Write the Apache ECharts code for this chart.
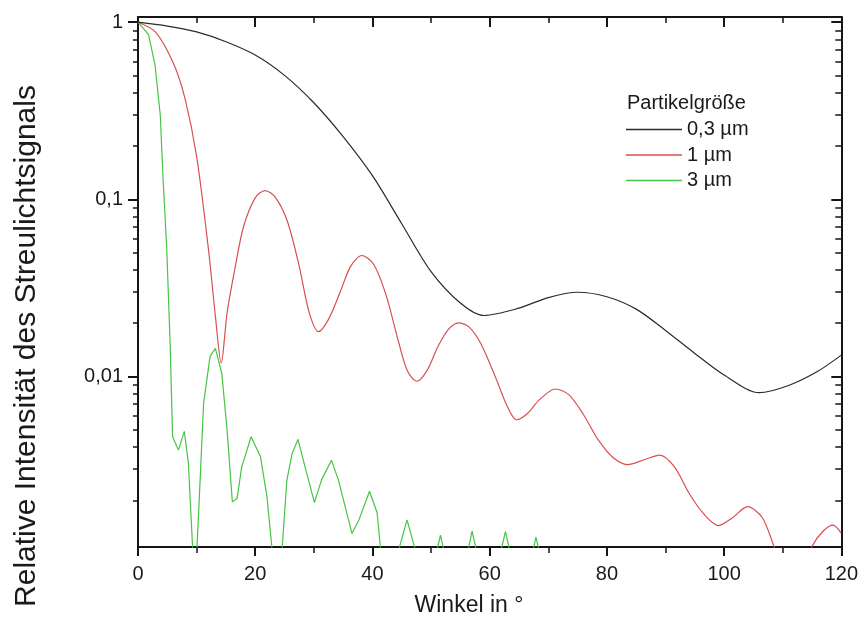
<!DOCTYPE html>
<html>
<head>
<meta charset="utf-8">
<script src="https://cdn.jsdelivr.net/npm/echarts@6/dist/echarts.min.js"></script>
<style>
  html, body { margin: 0; padding: 0; background: #fff; }
  #chart { width: 861px; height: 631px; }
</style>
</head>
<body>
<div id="chart"></div>
<script>
// Werte (Winkel in Grad, relative Intensitaet)
const angle03 = [0, 5, 10, 15, 20, 25, 30, 35, 40, 45, 50, 55, 59, 65, 70, 75, 80, 85, 90, 95, 100, 106, 111, 116, 120];
const int03 = [1, 0.951, 0.881, 0.776, 0.653, 0.501, 0.351, 0.226, 0.136, 0.0728, 0.0391, 0.0260, 0.0221, 0.0243, 0.0279, 0.0299, 0.0282, 0.0240, 0.0182, 0.0135, 0.0102, 0.0081, 0.0089, 0.0107, 0.0132];

const angle1 = [0, 3, 6, 8, 10, 12, 13.2, 14.2, 15.2, 16.5, 18, 20, 21.7, 23.5, 25.5, 27.5, 29.2, 30.8, 32.5, 34.5, 36.3, 38.2, 40.2, 42.3, 44.5, 46, 47.6, 49.3, 51.2, 53, 54.7, 56.5, 58.5, 61, 63, 64.6, 66.5, 68.5, 71.2, 73.5, 76, 78.5, 81, 83.5, 86.5, 89, 91.5, 94, 96.5, 99, 101.5, 104, 106.5, 108.5, 111.5, 115, 117, 118.6, 120];
const int1 = [1, 0.88, 0.59, 0.373, 0.175, 0.053, 0.022, 0.0119, 0.0229, 0.04, 0.07, 0.102, 0.112, 0.102, 0.075, 0.042, 0.023, 0.0179, 0.021, 0.030, 0.042, 0.0482, 0.043, 0.029, 0.0155, 0.0107, 0.0094, 0.0108, 0.0148, 0.0185, 0.0201, 0.0190, 0.0153, 0.0099, 0.0068, 0.0057, 0.0062, 0.0074, 0.0085, 0.0079, 0.0061, 0.0044, 0.0035, 0.00318, 0.0034, 0.0036, 0.0031, 0.0022, 0.00168, 0.00144, 0.0016, 0.00184, 0.0016, 0.0011, 0.0006, 0.0011, 0.00135, 0.00145, 0.0013];

const angle3 = [0, 1.8, 2.9, 3.8, 4.3, 4.9, 5.5, 5.9, 6.9, 7.9, 8.6, 9.7, 10.0, 10.6, 11.2, 12.3, 13.2, 14.3, 15.2, 16.1, 16.9, 17.7, 19.3, 20.9, 22, 23.4, 24.2, 25.4, 26.3, 27.3, 28.5, 30.1, 31.3, 33, 34.2, 36.5, 37.7, 39.5, 40.8, 41.9, 43.5, 45.9, 48.3, 50.2, 51.6, 53, 55.6, 57, 58.5, 61.1, 62.7, 64.2, 66.6, 67.9, 69.2, 72];
const int3 = [1, 0.85, 0.575, 0.30, 0.126, 0.053, 0.0147, 0.00457, 0.00384, 0.0049, 0.00323, 0.0006, 0.0006, 0.0026, 0.0071, 0.0130, 0.0144, 0.0104, 0.00498, 0.00196, 0.00205, 0.00309, 0.00457, 0.00352, 0.0021, 0.0007, 0.0007, 0.0026, 0.00368, 0.00442, 0.00309, 0.00194, 0.0026, 0.00337, 0.0026, 0.0013, 0.00155, 0.00225, 0.0017, 0.0007, 0.0008, 0.00155, 0.0008, 0.0008, 0.00127, 0.0008, 0.0008, 0.00134, 0.0008, 0.0008, 0.00133, 0.0008, 0.0008, 0.00124, 0.0008, 0.0005];

const seriesNames = ['0,3 µm', '1 µm', '3 µm'];
const seriesColors = ['#2b2b2b', '#d8504f', '#45c545'];

const yMin = 0.00109;
const yMax = 1.07;
const yMajorTicks = [0.01, 0.1, 1];
const yMajorLabels = ['0,01', '0,1', '1'];
const yMinorTicks = [0.002, 0.003, 0.004, 0.005, 0.006, 0.007, 0.008, 0.009,
                     0.02, 0.03, 0.04, 0.05, 0.06, 0.07, 0.08, 0.09,
                     0.2, 0.3, 0.4, 0.5, 0.6, 0.7, 0.8, 0.9];

const font = '"Liberation Sans", Arial, sans-serif';
const axisColor = '#151515';
const textColor = '#1a1a1a';

function zip(xs, ys) {
    return xs.map((x, i) => [x, ys[i]]);
}

function yLabel(v) {
    for (let i = 0; i < yMajorTicks.length; i++) {
        if (Math.abs(Math.log10(v) - Math.log10(yMajorTicks[i])) < 1e-6) return yMajorLabels[i];
    }
    return '';
}

// Hilfsachsen in log10-Koordinaten, nur fuer die Striche der log-Achse
function tickAxis(position, values, len, inside) {
    return {
        type: 'value',
        min: Math.log10(yMin),
        max: Math.log10(yMax),
        position: position,
        splitLine: { show: false },
        axisLine: { show: false, onZero: false },
        axisLabel: { show: false },
        axisTick: {
            show: true,
            inside: inside,
            length: len,
            customValues: values.map(v => Math.log10(v)),
            lineStyle: { color: axisColor, width: len > 6 ? 2 : 1.5 }
        }
    };
}

let chart = echarts.init(document.getElementById('chart'));

const xAxisBase = {
    type: 'value',
    min: 0,
    max: 120,
    interval: 20,
    splitLine: { show: false },
    axisLine: { show: true, onZero: false, lineStyle: { color: axisColor, width: 2 } },
    axisTick: { show: true, length: 9, lineStyle: { color: axisColor, width: 2 } },
    minorTick: { show: true, splitNumber: 2, length: 6, lineStyle: { color: axisColor, width: 1.5 } },
    minorSplitLine: { show: false }
};

chart.setOption({
    backgroundColor: '#fff',
    animation: false,
    grid: { left: 138, right: 19, top: 17, bottom: 84, containLabel: false },
    legend: {
        data: seriesNames,
        orient: 'vertical',
        left: 621,
        top: 114.5,
        icon: 'rect',
        itemWidth: 56,
        itemHeight: 1.5,
        itemGap: 5.5,
        selectedMode: false,
        textStyle: { fontFamily: font, fontSize: 20, color: textColor }
    },
    xAxis: [
        Object.assign({}, xAxisBase, {
            position: 'bottom',
            axisLabel: { show: true, margin: 17, fontFamily: font, fontSize: 20, color: textColor }
        }),
        Object.assign({}, xAxisBase, {
            position: 'top',
            axisTick: { show: true, inside: true, length: 10, lineStyle: { color: axisColor, width: 2 } },
            axisLabel: { show: false }
        })
    ],
    yAxis: [
        {
            type: 'log',
            logBase: 10,
            min: yMin,
            max: yMax,
            position: 'left',
            splitLine: { show: false },
            axisLine: { show: true, onZero: false, lineStyle: { color: axisColor, width: 2 } },
            axisTick: { show: false },
            axisLabel: {
                show: true,
                margin: 15,
                showMinLabel: false,
                showMaxLabel: false,
                fontFamily: font,
                fontSize: 20,
                color: textColor,
                formatter: yLabel
            }
        },
        {
            type: 'value',
            min: 0,
            max: 1,
            position: 'right',
            splitLine: { show: false },
            axisLine: { show: true, onZero: false, lineStyle: { color: axisColor, width: 2 } },
            axisTick: { show: false },
            axisLabel: { show: false }
        },
        tickAxis('left', yMajorTicks, 10, false),
        tickAxis('left', yMinorTicks, 5, false),
        tickAxis('right', yMajorTicks, 10, true),
        tickAxis('right', yMinorTicks, 6, true)
    ],
    graphic: [
        {
            type: 'text', left: 627, top: 93,
            style: { text: 'Partikelgröße', fontFamily: font, fontSize: 20, fill: textColor }
        },
        {
            type: 'text', x: 469, y: 606,
            style: { text: 'Winkel in °', fontFamily: font, fontSize: 23, fill: textColor, align: 'center', verticalAlign: 'middle' }
        },
        {
            type: 'text', x: 27, y: 346, rotation: Math.PI / 2,
            style: { text: 'Relative Intensität des Streulichtsignals', fontFamily: font, fontSize: 30, fill: textColor, align: 'center', verticalAlign: 'middle' }
        }
    ],
    series: [
        {
            name: seriesNames[0], type: 'line', data: zip(angle03, int03),
            smooth: 0.3, symbol: 'none', lineStyle: { color: seriesColors[0], width: 1.2 },
            itemStyle: { color: seriesColors[0] }, z: 3
        },
        {
            name: seriesNames[1], type: 'line', data: zip(angle1, int1),
            smooth: 0.3, symbol: 'none', lineStyle: { color: seriesColors[1], width: 1.2 },
            itemStyle: { color: seriesColors[1] }, z: 2
        },
        {
            name: seriesNames[2], type: 'line', data: zip(angle3, int3),
            smooth: false, symbol: 'none', lineStyle: { color: seriesColors[2], width: 1.2 },
            itemStyle: { color: seriesColors[2] }, z: 1
        }
    ]
});
</script>
</body>
</html>
